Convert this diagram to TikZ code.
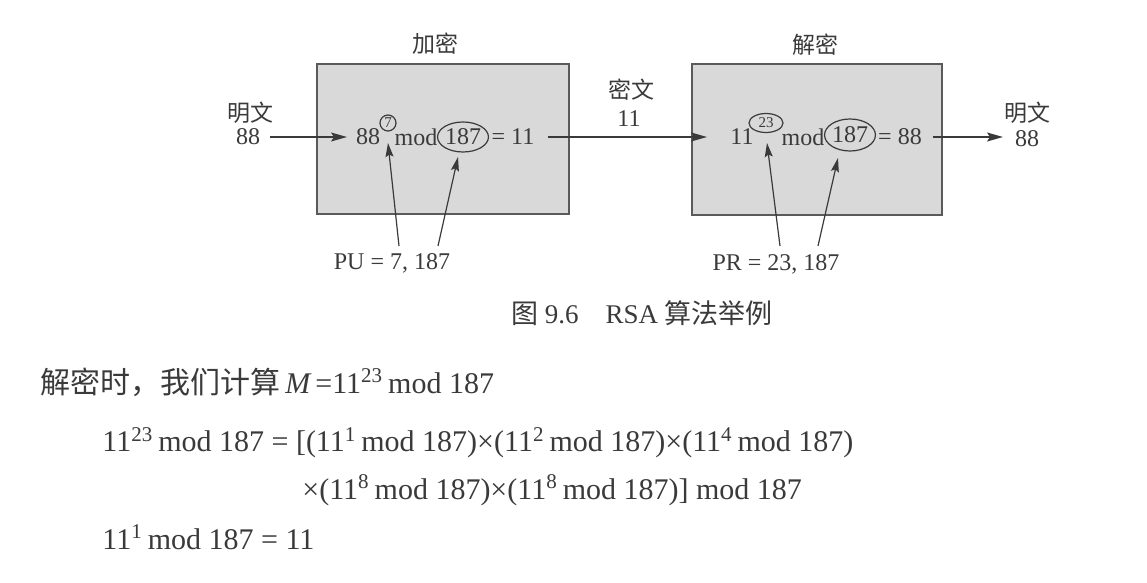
\documentclass[tikz,border=0pt]{standalone}
\usepackage{fontspec}
\setmainfont{Liberation Serif}
\newfontfamily\cjk{Noto Sans CJK SC}
\usetikzlibrary{arrows.meta,shapes.geometric}
\definecolor{ink}{HTML}{3A3A3A}
\definecolor{boxfill}{HTML}{D9D9D9}
\definecolor{boxline}{HTML}{5A5A5A}
\begin{document}
\begin{tikzpicture}[x=0.5pt,y=-0.5pt,
  txt/.style={inner sep=0pt,text=ink,font=\fontsize{12}{14}\selectfont},
  cn/.style={inner sep=0pt,text=ink,font=\fontsize{11.5}{13}\selectfont\cjk},
  body/.style={inner sep=0pt,text=ink,anchor=west,font=\fontsize{15}{18}\selectfont},
  blockbox/.style={draw=boxline,fill=boxfill,line width=0.8pt},
  ring/.style={draw=ink,line width=0.6pt,ellipse,inner sep=0pt,text=ink},
  flow/.style={draw=ink,line width=0.8pt,-{Stealth[length=8pt,width=4.5pt,inset=1.5pt]}},
  keyarrow/.style={draw=ink,line width=0.6pt,-{Stealth[length=7pt,width=4pt,inset=1.2pt]}}]
\useasboundingbox (0,0) rectangle (1147,583);
\fill[white] (0,0) rectangle (1147,583);

% boxes
\path[blockbox] (317,64) rectangle (569,214);
\path[blockbox] (692,64) rectangle (942,215);
\node[cn] (enc) at (435,44) {加密};
\node[cn] (dec) at (815,45) {解密};

% left plaintext
\node[cn] (pt1) at (250,113) {明文};
\node[txt] (pt1n) at (248,137) {88};
% encryption expression
\node[txt] (e88) at (368,137) {88};
\node[ring,circle,minimum size=8pt,font=\fontsize{7.5}{8}\selectfont] (e7) at (388,123) {7};
\node[txt] (emod) at (416,137) {mod};
\node[ring,minimum width=22.5pt,minimum height=15pt,font=\fontsize{12}{14}\selectfont] (e187) at (463,137) {187};
\node[txt] (eres) at (513,137) {= 11};

% ciphertext
\node[cn] (ct) at (631,90) {密文};
\node[txt] (ctn) at (629,119) {11};

% decryption expression
\node[txt] (d11) at (742,137) {11};
\node[ring,minimum width=17pt,minimum height=9.5pt,font=\fontsize{7.5}{8}\selectfont] (d23) at (766,123) {23};
\node[txt] (dmod) at (803,137) {mod};
\node[ring,minimum width=23pt,minimum height=16pt,font=\fontsize{12}{14}\selectfont] (d187) at (850,135) {187};
\node[txt] (dres) at (900,137) {= 88};

% right plaintext
\node[cn] (pt2) at (1027,113) {明文};
\node[txt] (pt2n) at (1027,139) {88};

% keys
\node[txt] (pu) at (392,263) {PU = 7, 187};
\node[txt] (pr) at (776,264) {PR = 23, 187};

% flow arrows
\coordinate (a1s) at (270,137);
\coordinate (a1e) at (347,137);
\coordinate (a2s) at (548,137);
\coordinate (a2e) at (707,137);
\coordinate (a3s) at (933,137);
\coordinate (a3e) at (1003,137);
\draw[flow] (a1s) -- (a1e);
\draw[flow] (a2s) -- (a2e);
\draw[flow] (a3s) -- (a3e);

% key arrows
\coordinate (pu1) at (399,246);
\coordinate (pu2) at (438,246);
\coordinate (pr1) at (780,246);
\coordinate (pr2) at (818,246);
\coordinate (t7) at (388,143);
\coordinate (t187a) at (458,157);
\coordinate (t23) at (767,143);
\coordinate (t187b) at (838,158);
\draw[keyarrow] (pu1) -- (t7);
\draw[keyarrow] (pu2) -- (t187a);
\draw[keyarrow] (pr1) -- (t23);
\draw[keyarrow] (pr2) -- (t187b);

% caption
\node[inner sep=0pt,text=ink,font=\fontsize{13.5}{15}\selectfont] (cap) at (642,313) {{\cjk 图}~9.6\quad RSA~{\cjk 算法举例}};

% body text
\node[body] (l1) at (40,382) {{\cjk 解密时，我们计算}\,{\itshape M}\,=11\textsuperscript{23}\,mod 187};
\node[body] (l2) at (102,443) {11\textsuperscript{23}\,mod 187 = [(11\textsuperscript{1}\,mod 187)×(11\textsuperscript{2}\,mod 187)×(11\textsuperscript{4}\,mod 187)};
\node[body] (l3) at (302,490) {×(11\textsuperscript{8}\,mod 187)×(11\textsuperscript{8}\,mod 187)] mod 187};
\node[body] (l4) at (102,537) {11\textsuperscript{1}\,mod 187 = 11};
\end{tikzpicture}
\end{document}
